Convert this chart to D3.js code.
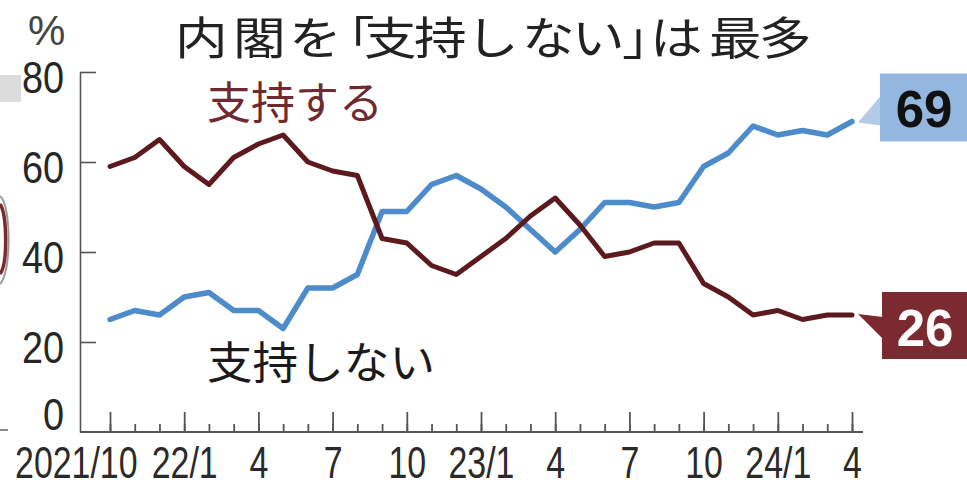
<!DOCTYPE html>
<html><head><meta charset="utf-8">
<script src="https://cdn.jsdelivr.net/npm/d3@7"></script>
<style>
html,body{margin:0;padding:0;background:#fff;}
svg{display:block;}
</style></head>
<body>
<svg id="c" width="967" height="488"></svg>
<script>
// ---- data ----
const months = ["2021/10","11","12","22/1","2","3","4","5","6","7","8","9","10","11","12",
  "23/1","2","3","4","5","6","7","8","9","10","11","12","24/1","2","3","4"];
const tickLabels = ["2021/10","22/1","4","7","10","23/1","4","7","10","24/1","4"];
const support    = [59,61,65,59,55,61,64,66,60,58,57,43,42,37,35,39,43,48,52,46,39,40,42,42,33,30,26,27,25,26,26];
const nonSupport = [25,27,26,30,31,27,27,23,32,32,35,49,49,55,57,54,50,45,40,45,51,51,50,51,59,62,68,66,67,66,69];
const yTicks = [0,20,40,60,80];
const title = "内閣を「支持しない」は最多";
const seriesNames = ["支持する","支持しない"];

const svg = d3.select("#c");
const RED = "#5c1a1f", BLUE = "#4d8bca";
const JP = "'Noto Sans CJK JP','Noto Sans',sans-serif";
const NUM = "'Liberation Sans',Arial,sans-serif";

const x = d3.scaleLinear().domain([0, months.length-1]).range([110, 852]);
const y = d3.scaleLinear().domain([0, 80]).range([432, 72]);

// left-edge crop artifacts
svg.append("rect").attr("x",0).attr("y",75).attr("width",21).attr("height",27).attr("fill","#dcdcdc");
svg.append("path").attr("d","M0,196 C11,204 12,272 0,284").attr("fill","none").attr("stroke","#9a9a9a").attr("stroke-width",2);
svg.append("path").attr("d","M0,204 C7,214 8,264 0,274").attr("fill","none").attr("stroke","#7a2a30").attr("stroke-width",3.5);
svg.append("line").attr("x1",0).attr("x2",8).attr("y1",430).attr("y2",430).attr("stroke","#666").attr("stroke-width",1.5);

// title (stretched glyphs, tight brackets as in the reference)
const sx = 1.17;
const titleX = [175,233,289,322,364,414,466,522,572,622,650,709,759].map(v => (v/sx).toFixed(1)).join(" ");
svg.append("text").attr("transform",`scale(${sx},1)`).attr("x",titleX).attr("y",55)
  .attr("font-family",JP).attr("font-size",45).attr("fill","#222").text(title);
svg.append("text").attr("x",28).attr("y",45).attr("font-family",NUM).attr("font-size",42)
  .attr("fill","#444").text("%");

// y axis
const yAxis = d3.axisLeft(y).tickValues(yTicks).tickSizeInner(-16).tickSizeOuter(0).tickFormat(d3.format("d"));
const gy = svg.append("g").attr("transform","translate(80,0)").call(yAxis);
gy.select(".domain").attr("stroke","#555").attr("stroke-width",1.6);
gy.selectAll(".tick line").attr("stroke","#555").attr("stroke-width",1.6).filter(d=>d===0).remove();
gy.selectAll(".tick text").attr("font-family",NUM).attr("font-size",44).attr("fill","#262626")
  .attr("transform","scale(0.86,1)").attr("x",-18.5).attr("dy",0)
  .attr("y",d=> d===0 ? -3 : 20);

// x axis: minor monthly ticks
const xMinor = d3.axisBottom(x).tickValues(d3.range(months.length)).tickSizeInner(-8).tickSizeOuter(0).tickFormat("");
const gxm = svg.append("g").attr("transform","translate(0,432)").call(xMinor);
gxm.select(".domain").remove();
gxm.selectAll(".tick line").attr("stroke","#555").attr("stroke-width",1.8);

// x axis: major quarterly ticks with labels
const majorIdx = d3.range(0, months.length, 3);
const xMajor = d3.axisBottom(x).tickValues(majorIdx).tickSizeInner(-20).tickSizeOuter(0)
  .tickFormat((d,i)=>tickLabels[i]);
const gx = svg.append("g").attr("transform","translate(0,432)").call(xMajor);
gx.select(".domain").attr("stroke","#555").attr("stroke-width",1.8)
  .attr("d","M80,0H863");
gx.selectAll(".tick line").attr("stroke","#555").attr("stroke-width",1.8);
gx.selectAll(".tick text").attr("font-family",NUM).attr("font-size",44).attr("fill","#2a2a2a")
  .attr("dy",0).attr("y",46.5).attr("transform","scale(0.77,1)")
  .each(function(d,i){ if(i===0){ d3.select(this).attr("text-anchor","end").attr("x",27/0.77); } });

// lines
const line = d3.line().x((d,i)=>x(i)).y(d=>y(d)).curve(d3.curveLinear);
svg.append("path").datum(nonSupport).attr("d",line).attr("fill","none")
  .attr("stroke",BLUE).attr("stroke-width",5.5).attr("stroke-linejoin","round").attr("stroke-linecap","round");
svg.append("path").datum(support).attr("d",line).attr("fill","none")
  .attr("stroke",RED).attr("stroke-width",5).attr("stroke-linejoin","round").attr("stroke-linecap","round");

// series labels
svg.append("text").attr("x",207).attr("y",119).attr("font-family",JP).attr("font-size",44)
  .attr("fill","#6e2a30").text(seriesNames[0]);
svg.append("text").attr("x",207).attr("y",379).attr("font-family",JP).attr("font-size",44)
  .attr("fill","#1a1a1a").attr("textLength",228).attr("lengthAdjust","spacingAndGlyphs").text(seriesNames[1]);

// end callouts
const last = months.length-1;
const bx = 880;
const by69 = y(nonSupport[last]);
svg.append("polygon").attr("points",[[x(last)+6,by69+1],[bx+1,by69-26],[bx+1,by69+4]].join(" ")).attr("fill","#b3cbe6");
svg.append("rect").attr("x",bx).attr("y",by69-48).attr("width",90).attr("height",68).attr("fill","#93b7de");
svg.append("text").attr("x",bx+44).attr("y",by69+5).attr("text-anchor","middle").attr("font-family",NUM)
  .attr("font-size",51).attr("font-weight","bold").attr("fill","#111").text(nonSupport[last]);

const by26 = y(support[last]);
svg.append("polygon").attr("points",[[x(last)+6,by26-1],[bx+3,by26+2],[bx+3,by26+24]].join(" ")).attr("fill","#7b2b2f");
svg.append("rect").attr("x",bx+2).attr("y",by26-23).attr("width",90).attr("height",67).attr("fill","#7b2b2f");
svg.append("text").attr("x",bx+45).attr("y",by26+31).attr("text-anchor","middle").attr("font-family",NUM)
  .attr("font-size",51).attr("font-weight","bold").attr("fill","#fff").text(support[last]);
</script>
</body></html>
